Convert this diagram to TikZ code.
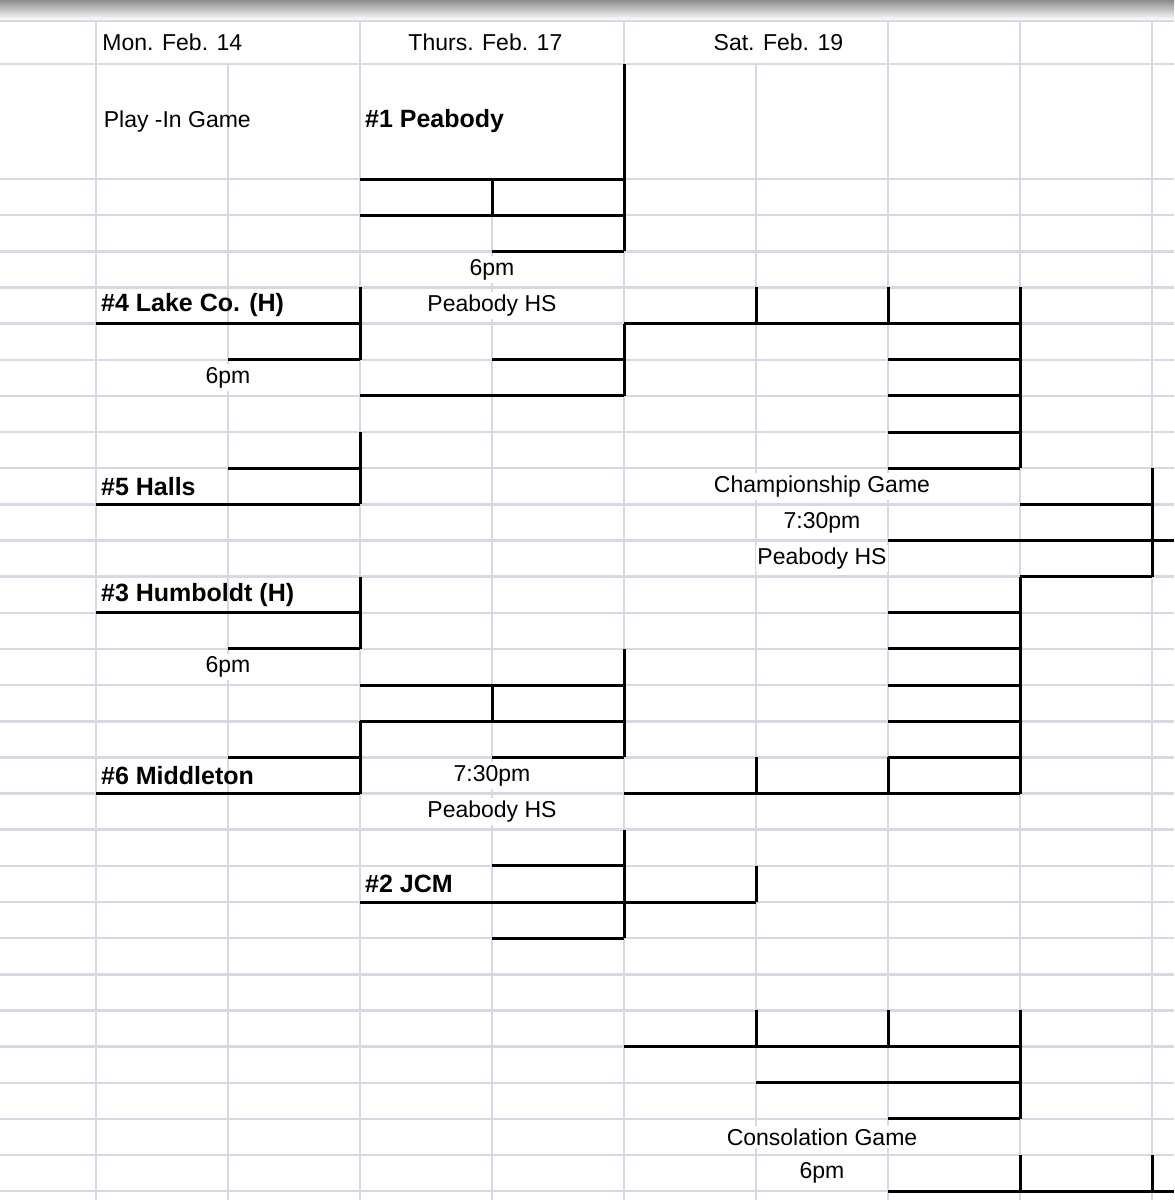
\documentclass[tikz,border=0pt]{standalone}
\usepackage{fontspec}
\setmainfont{Liberation Sans}
\usetikzlibrary{positioning}
\definecolor{gridgray}{RGB}{216,216,228}
\begin{document}
\begin{tikzpicture}[x=132pt,y=-36.15pt,shift={(96pt,-179pt)},
  grid/.style={draw=gridgray,line width=2.5pt},
  bk/.style={draw=black,line width=3pt},
  txt/.style={font=\fontsize{23}{26}\selectfont,inner sep=1pt},
  team/.style={font=\fontsize{25}{28}\selectfont\bfseries,inner sep=1pt,anchor=west},
  lbl/.style={txt,fill=white,inner ysep=3pt}]
\useasboundingbox (-0.7273,-4.9516) rectangle (8.1667,28.2434);
\shade[top color=black!45,bottom color=white] (-0.7273,-4.9516) rectangle (8.1667,-4.40);
% grid
\foreach \n in {-4.37,-3.18,0,1,...,28}
  \draw[grid] (-0.7273,\n) -- (8.1667,\n);
\foreach \k in {0,2,4,6,7,8}
  \draw[grid] (\k,-4.37) -- (\k,28.2434);
\foreach \k in {1,5}
  \draw[grid] (\k,-3.18) -- (\k,28.2434);
\draw[grid] (3,1) -- (3,28.2434);
% headers
\node[txt,anchor=west] (mon) at (0.04,-3.78) {Mon. Feb. 14};
\node[txt] (thu) at (2.95,-3.78) {Thurs. Feb. 17};
\node[txt] (sat) at (5.17,-3.78) {Sat. Feb. 19};
\node[txt,anchor=west] (playin) at (0.05,-1.6) {Play -In Game};
% teams
\node[team] (peabody) at (0.03+2,-1.6) {\#1 Peabody};
\node[team] (lake) at (0.03,3.5) {\#4 Lake Co. (H)};
\node[team] (halls) at (0.03,8.5) {\#5 Halls};
\node[team] (humboldt) at (0.03,11.5) {\#3 Humboldt (H)};
\node[team] (middleton) at (0.03,16.5) {\#6 Middleton};
\node[team] (jcm) at (2.03,19.5) {\#2 JCM};
% times and places
\node[lbl] (tA) at (3,2.5) {6pm};
\node[lbl] (hA) at (3,3.5) {Peabody HS};
\node[lbl] (tB) at (1,5.5) {6pm};
\node[lbl] (tC) at (1,13.5) {6pm};
\node[lbl] (tD) at (3,16.5) {7:30pm};
\node[lbl] (hD) at (3,17.5) {Peabody HS};
\node[lbl] (champ) at (5.5,8.5) {Championship Game};
\node[lbl] (tE) at (5.5,9.5) {7:30pm};
\node[lbl] (hE) at (5.5,10.5) {Peabody HS};
\node[lbl] (conso) at (5.5,26.5) {Consolation Game};
\node[lbl] (tF) at (5.5,27.5) {6pm};
% brackets, top half
\draw[bk] (2,0) -- (4,0) (2,1) -- (4,1) (3,0) -- (3,1) (3,2) -- (4,2) (4,-3.18) -- (4,2);
\draw[bk] (0,4) -- (2,4) (2,3) -- (2,5) (1,5) -- (2,5);
\draw[bk] (3,5) -- (4,5) (2,6) -- (4,6) (4,4) -- (4,6);
\draw[bk] (4,4) -- (7,4) (5,3) -- (5,4) (6,3) -- (6,4) (7,3) -- (7,8);
\foreach \n in {5,6,7,8}
  \draw[bk] (6,\n) -- (7,\n);
\draw[bk] (2,7) -- (2,9) (1,8) -- (2,8) (0,9) -- (2,9);
% final
\draw[bk] (8,8) -- (8,11) (7,9) -- (8,9) (6,10) -- (8.1667,10) (7,11) -- (8,11);
% brackets, bottom half
\draw[bk] (2,11) -- (2,13) (0,12) -- (2,12) (1,13) -- (2,13);
\draw[bk] (2,14) -- (4,14) (2,15) -- (4,15) (3,14) -- (3,15) (3,16) -- (4,16) (4,13) -- (4,16);
\draw[bk] (2,15) -- (2,17) (1,16) -- (2,16) (0,17) -- (2,17);
\draw[bk] (7,11) -- (7,17) (4,17) -- (7,17) (5,16) -- (5,17) (6,16) -- (6,17);
\foreach \n in {12,...,16}
  \draw[bk] (6,\n) -- (7,\n);
\draw[bk] (4,18) -- (4,21) (3,19) -- (4,19) (2,20) -- (5,20) (5,19) -- (5,20) (3,21) -- (4,21);
% consolation
\draw[bk] (5,23) -- (5,24) (6,23) -- (6,24) (7,23) -- (7,26);
\draw[bk] (4,24) -- (7,24) (5,25) -- (7,25) (6,26) -- (7,26);
\draw[bk] (7,27) -- (7,28) (8,27) -- (8,28) (6,28) -- (8.1667,28);
\end{tikzpicture}
\end{document}
